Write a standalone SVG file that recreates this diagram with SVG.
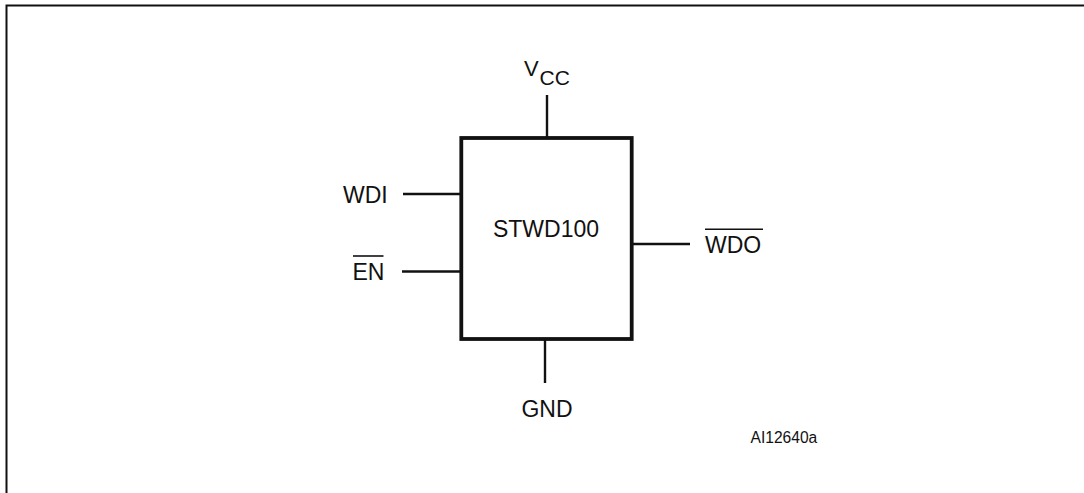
<svg xmlns="http://www.w3.org/2000/svg" width="1084" height="493" viewBox="0 0 1084 493">
<style>
.lbl{font-family:"Liberation Sans",Arial,sans-serif;font-size:23px;fill:#111}
.v{font-size:22px}
.sub{font-size:21px}
.small{font-size:15.6px}
.wire{stroke:#111;stroke-width:2.4;fill:none}
.bar{stroke:#111;stroke-width:1.6;fill:none}
</style>
<rect x="0" y="0" width="1084" height="493" fill="#fff"/>
<path d="M6.5 493 V5.5 H1084" fill="none" stroke="#111" stroke-width="2"/>
<g id="connectors">
<line class="wire" x1="547" y1="95" x2="547" y2="138"/>
<line class="wire" x1="403" y1="194" x2="461" y2="194"/>
<line class="wire" x1="402" y1="271.5" x2="461" y2="271.5"/>
<line class="wire" x1="632" y1="244" x2="690" y2="244"/>
<line class="wire" x1="545" y1="339" x2="545" y2="383"/>
</g>
<g id="stwd100">
<rect x="461.3" y="138" width="170.4" height="201" fill="none" stroke="#111" stroke-width="3.8"/>
<text class="lbl" x="546" y="237" text-anchor="middle">STWD100</text>
</g>
<g id="vcc">
<text class="lbl v" x="524" y="76">V</text>
<text class="lbl sub" x="539.5" y="84.5">CC</text>
</g>
<g id="wdi">
<text class="lbl" x="343" y="203">WDI</text>
</g>
<g id="en">
<text class="lbl" x="352.5" y="280">EN</text>
<line class="bar" x1="353" y1="256" x2="383.5" y2="256"/>
</g>
<g id="wdo">
<text class="lbl" x="705" y="253.3">WDO</text>
<line class="bar" x1="705" y1="229.3" x2="763" y2="229.3"/>
</g>
<g id="gnd">
<text class="lbl" x="547" y="417.3" text-anchor="middle">GND</text>
</g>
<g id="ref">
<text class="lbl small" x="750.5" y="442.7">AI12640a</text>
</g>
</svg>
